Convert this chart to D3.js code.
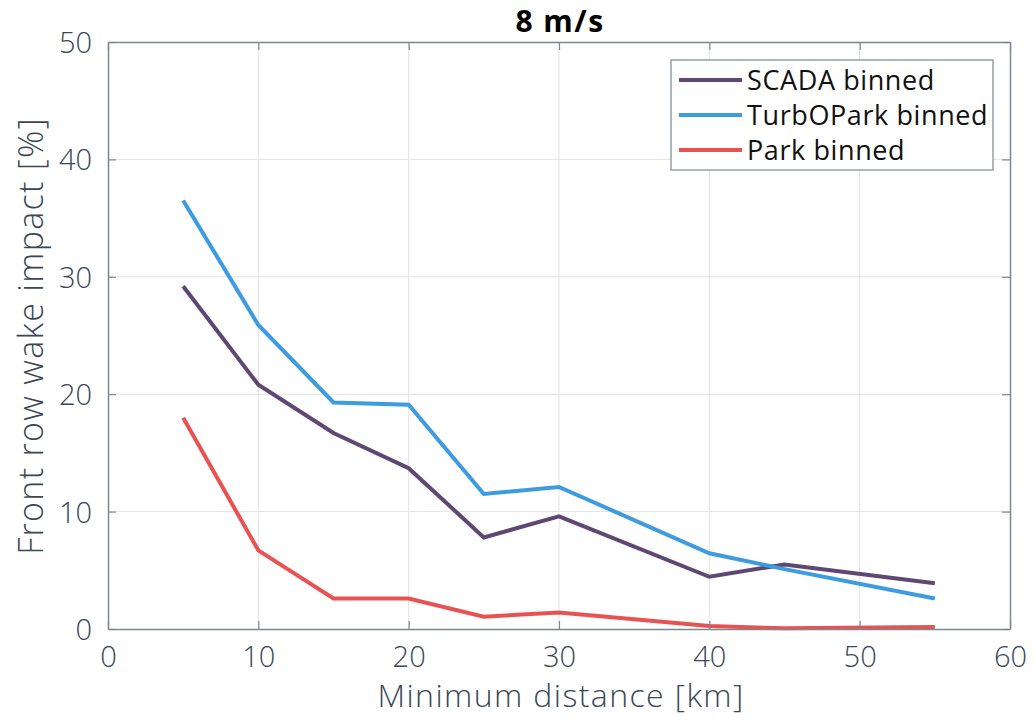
<!DOCTYPE html>
<html><head><meta charset="utf-8">
<script src="https://cdn.jsdelivr.net/npm/d3@7"></script>
<style>body{margin:0;background:#fff;} svg{display:block;}</style>
</head><body>
<svg id="chart" width="1035" height="718"></svg>
<script>
const distances = [5, 10, 15, 20, 25, 30, 40, 45, 55];
const scada = [29.2, 20.8, 16.7, 13.7, 7.8, 9.6, 4.45, 5.5, 3.9];
const turbopark = [36.5, 25.9, 19.3, 19.1, 11.5, 12.1, 6.45, 5.1, 2.6];
const park = [18.0, 6.7, 2.6, 2.6, 1.05, 1.4, 0.25, 0.06, 0.18];
const seriesNames = ["SCADA binned", "TurbOPark binned", "Park binned"];
const seriesColors = ["#5f4773", "#3d9be0", "#e85252"];
const xTicks = [0, 10, 20, 30, 40, 50, 60];
const yTicks = [0, 10, 20, 30, 40, 50];
const title = "8 m/s";
const xLabel = "Minimum distance [km]";
const yLabel = "Front row wake impact [%]";

const svg = d3.select("#chart");
const m = {l: 108, r: 1010, t: 42, b: 629};
const x = d3.scaleLinear().domain([0, 60]).range([m.l, m.r]);
const y = d3.scaleLinear().domain([0, 50]).range([m.b, m.t]);
const font = "'Open Sans', sans-serif";
const tickColor = "#3a4756";
const axisColor = "#7d8791";

// grid
svg.append("g").selectAll("line.gx").data(xTicks.slice(1, -1)).join("line")
  .attr("x1", d => x(d)).attr("x2", d => x(d)).attr("y1", m.t).attr("y2", m.b)
  .attr("stroke", "#e3e3e3").attr("stroke-width", 1);
svg.append("g").selectAll("line.gy").data(yTicks.slice(1, -1)).join("line")
  .attr("y1", d => y(d)).attr("y2", d => y(d)).attr("x1", m.l).attr("x2", m.r)
  .attr("stroke", "#e3e3e3").attr("stroke-width", 1);

// series
const data = [scada, turbopark, park];
const line = d3.line().x(d => x(d[0])).y(d => y(d[1]));
data.forEach((vals, i) => {
  svg.append("path").datum(distances.map((d, j) => [d, vals[j]]))
    .attr("d", line).attr("fill", "none").attr("stroke", seriesColors[i])
    .attr("stroke-width", 4).attr("stroke-linejoin", "miter");
});

// axes (box with inward ticks)
const tl = 8;
const gx = svg.append("g").attr("transform", `translate(0,${m.b})`)
  .call(d3.axisBottom(x).tickValues(xTicks).tickSizeInner(-tl).tickSizeOuter(0).tickPadding(17));
const gxt = svg.append("g").attr("transform", `translate(0,${m.t})`)
  .call(d3.axisTop(x).tickValues(xTicks).tickSizeInner(-tl).tickSizeOuter(0).tickFormat(""));
const gy = svg.append("g").attr("transform", `translate(${m.l},0)`)
  .call(d3.axisLeft(y).tickValues(yTicks).tickSizeInner(-tl).tickSizeOuter(0).tickPadding(16));
const gyr = svg.append("g").attr("transform", `translate(${m.r},0)`)
  .call(d3.axisRight(y).tickValues(yTicks).tickSizeInner(-tl).tickSizeOuter(0).tickFormat(""));
[gx, gxt, gy, gyr].forEach(g => {
  g.select(".domain").attr("stroke", axisColor).attr("stroke-width", 1.5);
  g.selectAll(".tick line").attr("stroke", axisColor).attr("stroke-width", 1.2);
  g.selectAll(".tick text").attr("fill", tickColor).attr("font-family", font)
    .attr("font-size", 29).attr("font-weight", 300);
});
gx.selectAll(".tick text").attr("dy", "0.71em");
gy.selectAll(".tick text").attr("dy", "0.36em");

// labels
svg.append("text").attr("x", 560).attr("y", 32).attr("text-anchor", "middle")
  .attr("font-family", font).attr("font-size", 30).attr("font-weight", 700)
  .attr("letter-spacing", 1.5).attr("fill", "#000").text(title);
svg.append("text").attr("x", 561).attr("y", 707).attr("text-anchor", "middle")
  .attr("font-family", font).attr("font-size", 32).attr("font-weight", 300)
  .attr("letter-spacing", 1.4).attr("fill", tickColor).text(xLabel);
svg.append("text").attr("transform", "translate(43,336) rotate(-90)").attr("text-anchor", "middle")
  .attr("font-family", font).attr("font-size", 34).attr("font-weight", 300)
  .attr("letter-spacing", 1.3).attr("fill", tickColor).text(yLabel);

// legend
const lg = svg.append("g");
lg.append("rect").attr("x", 671).attr("y", 60).attr("width", 322).attr("height", 110)
  .attr("fill", "#fff").attr("stroke", axisColor).attr("stroke-width", 1.2);
seriesNames.forEach((name, i) => {
  const yy = 80 + i * 35;
  lg.append("line").attr("x1", 679).attr("x2", 742).attr("y1", yy).attr("y2", yy)
    .attr("stroke", seriesColors[i]).attr("stroke-width", 4);
  lg.append("text").attr("x", 747).attr("y", yy).attr("dy", "0.36em")
    .attr("font-family", font).attr("font-size", 27).attr("font-weight", 400)
    .attr("letter-spacing", 0.6).attr("fill", "#111").text(name);
});
</script>
</body></html>
